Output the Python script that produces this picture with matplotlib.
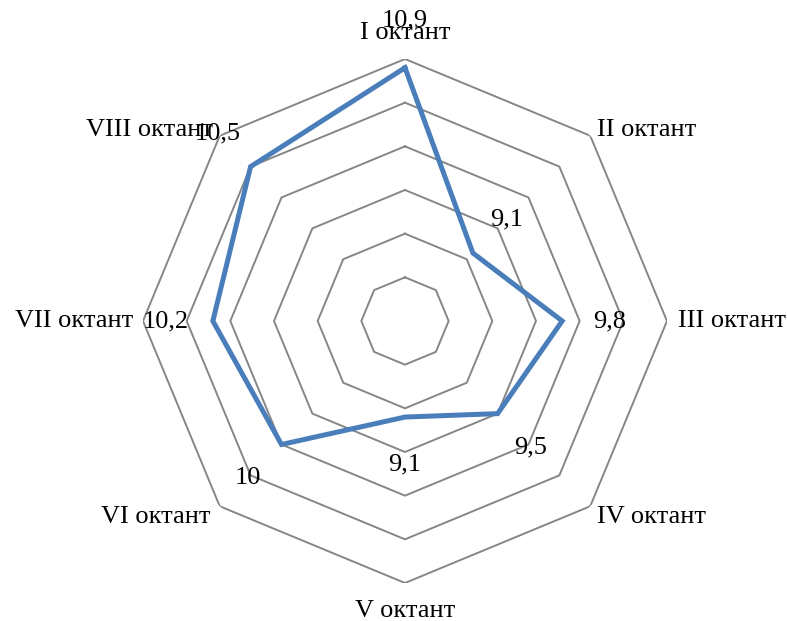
import numpy as np
import matplotlib
matplotlib.use('Agg')
import matplotlib.pyplot as plt

plt.rcParams['font.family'] = ['Liberation Serif', 'DejaVu Serif']

# ─── Dados ────────────────────────────────────────────────────────────────────
categories = ['I октант', 'II октант', 'III октант', 'IV октант',
              'V октант', 'VI октант', 'VII октант', 'VIII октант']
values = [10.9, 9.1, 9.8, 9.5, 9.1, 10.0, 10.2, 10.5]
value_labels = ['10,9', '9,1', '9,8', '9,5', '9,1', '10', '10,2', '10,5']
ring_levels = [8.5, 9.0, 9.5, 10.0, 10.5, 11.0]
r_min, r_max = 8.0, 11.0

n = len(categories)
theta = np.arange(n) * 2 * np.pi / n

fig = plt.figure(figsize=(7.87, 6.21), dpi=100)
ax = fig.add_axes([0.1817, 0.0612, 0.6658, 0.8438], projection='polar')
ax.set_theta_zero_location('N')
ax.set_theta_direction(-1)
ax.set_ylim(r_min, r_max)
ax.grid(False)
ax.spines['polar'].set_visible(False)
ax.set_xticks([])
ax.set_yticks([])
ax.patch.set_visible(False)

th_closed = np.append(theta, theta[0])

# aneis octogonais
for lv in ring_levels:
    ax.plot(th_closed, [lv] * (n + 1), color='#868686', linewidth=1.4, zorder=1)

# serie
ax.plot(th_closed, values + values[:1], color='#4a7ebb', linewidth=3.6,
        solid_joinstyle='miter', zorder=3)

# rotulos de categoria
cat_offsets = [(0, 19, 'center'), (5, 4, 'left'), (8, 0, 'left'), (5, -8, 'left'),
               (0, -20, 'center'), (-7, -8, 'right'), (-7, 0, 'right'), (-5, 4, 'right')]
for t, lab, (dx, dy, ha) in zip(theta, categories, cat_offsets):
    ax.annotate(lab, xy=(t, r_max), xytext=(dx, dy), textcoords='offset points',
                ha=ha, va='center', fontsize=19, color='black',
                annotation_clip=False)

# rotulos de dados
for t, v, lab in zip(theta, values, value_labels):
    d = 34
    ax.annotate(lab, xy=(t, v), xytext=(d * np.sin(t), d * np.cos(t)),
                textcoords='offset points', ha='center', va='center',
                fontsize=19, color='black', annotation_clip=False, zorder=4)

plt.savefig('out.png', dpi=100)
plt.close()
